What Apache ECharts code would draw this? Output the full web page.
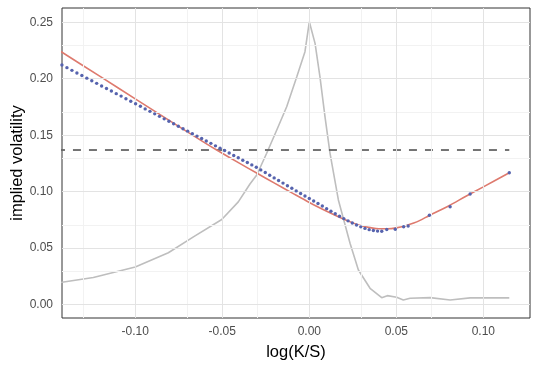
<!DOCTYPE html>
<html>
<head>
<meta charset="utf-8">
<script src="https://cdn.jsdelivr.net/npm/echarts@6/dist/echarts.min.js"></script>
<style>
html,body{margin:0;padding:0;background:#fff;}
#chart{width:540px;height:368px;}
</style>
</head>
<body>
<div id="chart"></div>
<script>
// ---- data ----
var blueX = [-0.14214,-0.13926,-0.13639,-0.13353,-0.13068,-0.12783,-0.12499,-0.12217,-0.11935,-0.11653,
  -0.11373,-0.11093,-0.10814,-0.10536,-0.10259,-0.09982,-0.09706,-0.09431,-0.09157,-0.08883,
  -0.08610,-0.08338,-0.08067,-0.07796,-0.07526,-0.07257,-0.06988,-0.06720,-0.06453,-0.06187,
  -0.05921,-0.05656,-0.05392,-0.05129,-0.04866,-0.04604,-0.04342,-0.04082,-0.03822,-0.03562,
  -0.03303,-0.03045,-0.02788,-0.02531,-0.02275,-0.02020,-0.01765,-0.01511,-0.01258,-0.01005,
  -0.00753,-0.00501,-0.00250,0.00000,0.00250,0.00499,0.00747,0.00995,0.01242,0.01489,
  0.01735,0.01980,0.02225,0.02469,0.02713,0.02956,0.03198,0.03440,0.03681,0.03922,
  0.04162,0.0445,0.0494,0.0542,0.0568,0.0690,0.0809,0.0924,0.1149];
var blueY = [0.2121,0.2098,0.2074,0.2051,0.2028,0.2005,0.1982,0.1959,0.1936,0.1914,
  0.1891,0.1868,0.1846,0.1823,0.1801,0.1778,0.1756,0.1733,0.1711,0.1689,
  0.1667,0.1645,0.1623,0.1601,0.1579,0.1557,0.1536,0.1514,0.1492,0.1471,
  0.1449,0.1428,0.1406,0.1385,0.1364,0.1342,0.1321,0.1300,0.1279,0.1258,
  0.1237,0.1216,0.1193,0.1170,0.1146,0.1122,0.1099,0.1076,0.1053,0.1030,
  0.1007,0.0984,0.0962,0.0940,0.0918,0.0896,0.0873,0.0850,0.0827,0.0805,
  0.0783,0.0762,0.0742,0.0723,0.0705,0.0689,0.0675,0.0664,0.0656,0.0651,
  0.0650,0.0665,0.0667,0.0690,0.0696,0.0791,0.0867,0.0980,0.1168];

var redX = [-0.1450,-0.1421,-0.1200,-0.1000,-0.0760,-0.0600,-0.0532,-0.0400,-0.0300,-0.0200,
  -0.0100,0.0000,0.0100,0.0176,0.0250,0.0300,0.0350,0.0400,0.0450,0.0500,
  0.0550,0.0600,0.0636,0.0690,0.0800,0.0900,0.1000,0.1149];
var redY = [0.2262,0.2234,0.2018,0.1822,0.1587,0.1432,0.1369,0.1251,0.1163,0.1076,
  0.0990,0.0905,0.0827,0.0772,0.0724,0.0698,0.0682,0.0672,0.0672,0.0680,
  0.0697,0.0722,0.0746,0.0790,0.0874,0.0960,0.1043,0.1168];

var grayX = [-0.1450,-0.1421,-0.1241,-0.1000,-0.0810,-0.0666,-0.0503,-0.0408,-0.0341,-0.0302,
  -0.0245,-0.0187,-0.0130,-0.0072,-0.0025,0.0000,0.0033,0.0061,0.0090,0.0119,
  0.0167,0.0234,0.0282,0.0349,0.0416,0.0448,0.0502,0.0540,0.0579,0.0694,
  0.0809,0.0924,0.1149];
var grayY = [0.0190,0.0198,0.0240,0.0334,0.0460,0.0600,0.0754,0.0910,0.1068,0.1148,
  0.1340,0.1546,0.1752,0.2018,0.2239,0.2504,0.2313,0.2018,0.1664,0.1340,
  0.0927,0.0543,0.0307,0.0145,0.0062,0.0080,0.0065,0.0042,0.0057,0.0062,
  0.0042,0.0060,0.0060];

var dashX = [-0.1450, 0.1149];
var dashY = [0.1369, 0.1369];

var xTicks = [-0.10,-0.05,0.00,0.05,0.10];
var xTickLabels = ['-0.10','-0.05','0.00','0.05','0.10'];
var xMinor = [-0.125,-0.075,-0.025,0.025,0.075,0.125];
var yTicks = [0.00,0.05,0.10,0.15,0.20,0.25];
var yTickLabels = ['0.00','0.05','0.10','0.15','0.20','0.25'];
var yMinor = [0.025,0.075,0.125,0.175,0.225];

// ---- build ----
function zip(a,b){return a.map(function(v,i){return [v,b[i]];});}
function lab(ticks,labels){return function(v){var best=0,d=1e9;for(var i=0;i<ticks.length;i++){var dd=Math.abs(ticks[i]-v);if(dd<d){d=dd;best=i;}}return labels[best];};}

var majorStyle = {color:'#E3E3E3', width:1, type:'solid'};
var minorStyle = {color:'#F2F2F2', width:1, type:'solid'};
var gridLines = [];
xMinor.forEach(function(v){gridLines.push({xAxis:v, lineStyle:minorStyle});});
yMinor.forEach(function(v){gridLines.push({yAxis:v, lineStyle:minorStyle});});
xTicks.forEach(function(v){gridLines.push({xAxis:v, lineStyle:majorStyle});});
yTicks.forEach(function(v){gridLines.push({yAxis:v, lineStyle:majorStyle});});

var font = "'Liberation Sans', Arial, sans-serif";
var chart = echarts.init(document.getElementById('chart'), null, {renderer:'canvas'});
chart.setOption({
  animation:false,
  backgroundColor:'#fff',
  grid:{left:62, right:10, top:8, bottom:50, show:true, borderColor:'#333333', borderWidth:1, backgroundColor:'#fff',
    containLabel:false, outerBoundsMode:'none'},
  xAxis:{type:'value', min:-0.1421, max:0.1268,
    name:'log(K/S)', nameLocation:'middle', nameGap:26, nameMoveOverlap:false,
    nameTextStyle:{fontSize:16.5, color:'#000', fontFamily:font},
    axisLine:{show:false},
    splitLine:{show:false},
    axisTick:{show:true, customValues:xTicks, length:4, lineStyle:{color:'#333333', width:1}},
    axisLabel:{customValues:xTicks, formatter:lab(xTicks,xTickLabels), color:'#4D4D4D', fontSize:12, fontFamily:font, margin:8}
  },
  yAxis:{type:'value', min:-0.0118, max:0.2626,
    name:'implied volatility', nameLocation:'middle', nameGap:36, nameRotate:90, nameMoveOverlap:false,
    nameTextStyle:{fontSize:16.5, color:'#000', fontFamily:font},
    axisLine:{show:false},
    splitLine:{show:false},
    axisTick:{show:true, customValues:yTicks, length:4, lineStyle:{color:'#333333', width:1}},
    axisLabel:{customValues:yTicks, formatter:lab(yTicks,yTickLabels), color:'#4D4D4D', fontSize:12, fontFamily:font, margin:9}
  },
  series:[
    {type:'line', data:[], z:1, silent:true,
      markLine:{silent:true, symbol:'none', label:{show:false}, animation:false, data:gridLines}},
    {type:'line', data:zip(grayX,grayY), showSymbol:false, z:2, lineStyle:{color:'#BEBEBE', width:1.6}},
    {type:'line', data:zip(dashX,dashY), showSymbol:false, z:3, lineStyle:{color:'#666666', width:1.8, type:[8,8]}},
    {type:'line', data:zip(redX,redY), showSymbol:false, smooth:0.3, z:4, lineStyle:{color:'#DE7A6E', width:1.6}},
    {type:'scatter', data:zip(blueX,blueY), symbolSize:3.4, z:5, itemStyle:{color:'#5663AE', opacity:1}}
  ]
});
</script>
</body>
</html>
